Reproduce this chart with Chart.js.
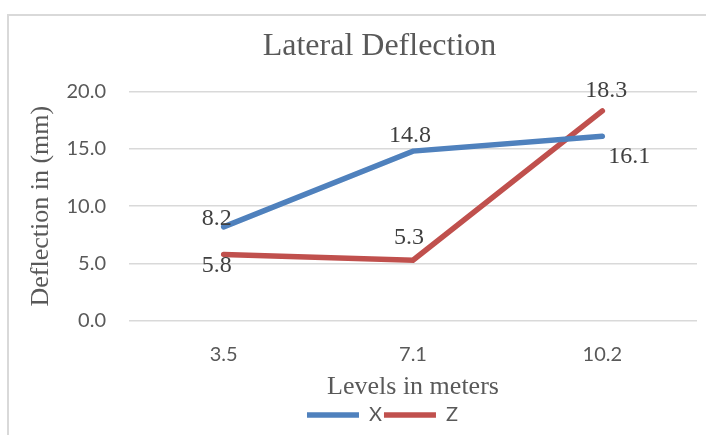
<!DOCTYPE html>
<html>
<head>
<meta charset="utf-8">
<script src="https://cdn.jsdelivr.net/npm/chart.js@4"></script>
<style>
  body { margin: 0; background: #fff; }
  #frame { position: absolute; left: 7px; top: 14px; width: 760px; height: 460px; border: 2px solid #d9d9d9; }
  #wrap { position: absolute; left: 0; top: 0; width: 706px; height: 435px; }
</style>
</head>
<body>
<div id="frame"></div>
<div id="wrap"><canvas id="chart" width="706" height="435"></canvas></div>
<script>
// Datos del grafico
const levels = ['3.5', '7.1', '10.2'];
const deflectionX = [8.2, 14.8, 16.1];
const deflectionZ = [5.8, 5.3, 18.3];

const grey = '#595959';
const serif = '"Liberation Serif", "Times New Roman", serif';
const sans = 'Lato, "Open Sans", sans-serif';

// Etiquetas de valores junto a cada punto
const valueLabels = {
  id: 'valueLabels',
  afterLayout(chart) {
    // titulo y leyenda van algo a la derecha del centro
    chart.titleBlock.left += 18;
    chart.titleBlock.right += 18;
    chart.legend.left += 21;
    chart.legend.right += 21;
  },
  afterDatasetsDraw(chart) {
    const ctx = chart.ctx;
    ctx.save();
    ctx.font = '24px ' + serif;
    ctx.fillStyle = '#404040';
    ctx.textAlign = 'center';
    ctx.textBaseline = 'middle';
    chart.data.datasets.forEach((ds, i) => {
      const meta = chart.getDatasetMeta(i);
      meta.data.forEach((pt, j) => {
        const off = ds.labelOffsets[j];
        ctx.fillText(ds.data[j].toFixed(1), pt.x + off[0], pt.y + off[1]);
      });
    });
    ctx.restore();
  }
};

const data = {
  labels: levels,
  datasets: [
    {
      label: 'X',
      data: deflectionX,
      borderColor: '#4f81bd',
      backgroundColor: '#4f81bd',
      borderWidth: 5.5,
      pointRadius: 0,
      borderCapStyle: 'round',
      pointStyle: 'line',
      labelOffsets: [[-7, -8], [-3, -15], [27, 21]]
    },
    {
      label: 'Z',
      data: deflectionZ,
      borderColor: '#c0504d',
      backgroundColor: '#c0504d',
      borderWidth: 5.5,
      pointRadius: 0,
      borderCapStyle: 'round',
      pointStyle: 'line',
      labelOffsets: [[-7, 11], [-4, -22], [4, -20]]
    }
  ]
};

const options = {
  responsive: false,
  animation: false,
  layout: { padding: { left: 26, right: 9, top: 27, bottom: 0 } },
  plugins: {
    title: {
      display: true,
      text: 'Lateral Deflection',
      color: grey,
      font: { family: serif, size: 32, weight: 'normal' },
      padding: { top: 0, bottom: 26 }
    },
    legend: {
      position: 'bottom',
      labels: {
        color: grey,
        font: { family: sans, size: 20 },
        usePointStyle: true,
        pointStyleWidth: 52,
        boxHeight: 6,
        padding: 2
      }
    },
    tooltip: { enabled: false }
  },
  scales: {
    x: {
      offset: true,
      grid: { display: false },
      border: { display: false },
      ticks: { color: grey, font: { family: sans, size: 20 }, padding: 14 },
      title: {
        display: true,
        text: 'Levels in meters',
        color: grey,
        font: { family: serif, size: 26 },
        padding: { top: 0, bottom: 0 }
      },
      afterFit: s => { s.height = 82; }
    },
    y: {
      min: 0,
      max: 20,
      grid: { color: '#d9d9d9', lineWidth: 1.5, drawTicks: false },
      border: { display: false },
      ticks: {
        stepSize: 5,
        color: grey,
        font: { family: sans, size: 20 },
        padding: 23,
        callback: v => v.toFixed(1)
      },
      title: {
        display: true,
        text: 'Deflection in (mm)',
        color: grey,
        font: { family: serif, size: 26 },
        padding: { top: 0, bottom: 0 }
      },
      afterFit: s => { s.width = 103; }
    }
  }
};

new Chart(document.getElementById('chart'), {
  type: 'line',
  data: data,
  options: options,
  plugins: [valueLabels]
});
</script>
</body>
</html>
